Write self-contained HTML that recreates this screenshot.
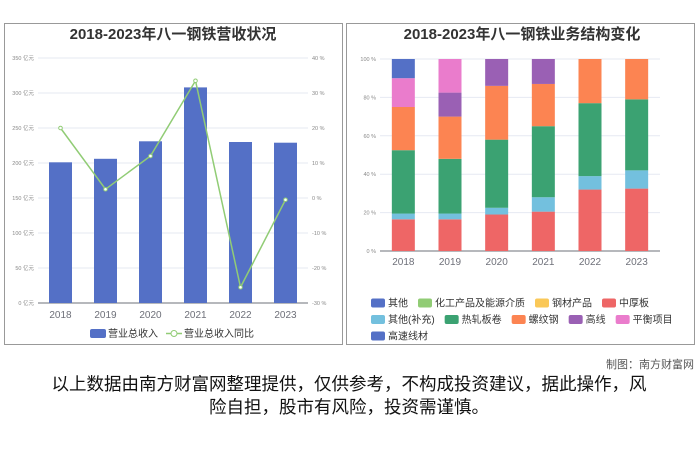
<!DOCTYPE html>
<html><head><meta charset="utf-8">
<style>
body{margin:0;width:700px;height:467px;background:#fff;overflow:hidden;font-family:"Liberation Sans","Noto Sans CJK SC",sans-serif;}
svg text{font-family:"Liberation Sans","Noto Sans CJK SC",sans-serif;}
</style></head>
<body>
<svg id="chart" width="700" height="467" viewBox="0 0 700 467">
<rect x="4.5" y="23.5" width="338" height="321" fill="#fff" stroke="#999"/>
<rect x="346.5" y="23.5" width="348" height="321" fill="#fff" stroke="#999"/>
<text x="173" y="39" text-anchor="middle" font-size="15" font-weight="bold" fill="#333">2018-2023年八一钢铁营收状况</text>
<text x="522" y="39" text-anchor="middle" font-size="15" font-weight="bold" fill="#333">2018-2023年八一钢铁业务结构变化</text>
<g id="left"></g>
<g id="right"></g>
<text x="694" y="368" text-anchor="end" font-size="11" fill="#555">制图：南方财富网</text>
<text x="349" y="390" text-anchor="middle" font-size="17.5" fill="#111">以上数据由南方财富网整理提供，仅供参考，不构成投资建议，据此操作，风</text>
<text x="349" y="413" text-anchor="middle" font-size="17.5" fill="#111">险自担，股市有风险，投资需谨慎。</text>
</svg>
<script>
const years=['2018','2019','2020','2021','2022','2023'];
const revenue=[201,206,231,308,230,229];
const growth=[20,2.5,12,33.5,-25.5,-0.5];
const revTicks=[0,50,100,150,200,250,300,350];
const pctTicks=[-30,-20,-10,0,10,20,30,40];
const segNames=['中厚板','其他(补充)','热轧板卷','螺纹钢','高线','平衡项目','高速线材'];
const segColors=['#ee6666','#73c0de','#3ba272','#fc8452','#9a60b4','#ea7ccc','#5470c6'];
const s_zhb=[16.5,16.5,19,20.5,32,32.5];
const s_qtbc=[3,3,3.5,7.5,7,9.5];
const s_rzbj=[33,28.5,35.5,37,38,37];
const s_lwg=[22.5,22,28,22,23,21];
const s_gx=[0,12.5,14,13,0,0];
const s_phxm=[15,17.5,0,0,0,0];
const s_gsxc=[10,0,0,0,0,0];
const series=[s_zhb,s_qtbc,s_rzbj,s_lwg,s_gx,s_phxm,s_gsxc];
const pctAxis=[0,20,40,60,80,100];
const legendItems=[['其他','#5470c6'],['化工产品及能源介质','#91cc75'],['钢材产品','#fac858'],['中厚板','#ee6666'],['其他(补充)','#73c0de'],['热轧板卷','#3ba272'],['螺纹钢','#fc8452'],['高线','#9a60b4'],['平衡项目','#ea7ccc'],['高速线材','#5470c6']];
const NS='http://www.w3.org/2000/svg';
function mk(p,t,a,txt){const e=document.createElementNS(NS,t);for(const k in a)e.setAttribute(k,a[k]);if(txt!==undefined)e.textContent=txt;p.appendChild(e);return e;}
// left
const L=document.getElementById('left');
const lx0=38,lx1=308,ly0=303,ly1=58;
const yRev=v=>ly0-(v/350)*(ly0-ly1);
const yPct=v=>ly0-((v+30)/70)*(ly0-ly1);
const bw=(lx1-lx0)/years.length;
const xL=i=>lx0+bw*(i+0.5);
revTicks.forEach(v=>{
 let g=mk(L,'line',{x1:lx0,x2:lx1,y1:yRev(v),y2:yRev(v),stroke:v?'#e6e9f2':'#6e7079'});
 
 let t=mk(L,'text',{x:lx0-4,y:yRev(v)+2,'text-anchor':'end','font-size':5.5,fill:'#888'},v+' 亿元');
 
});
pctTicks.forEach(v=>{
 let t=mk(L,'text',{x:lx1+4,y:yPct(v)+2,'font-size':5.5,fill:'#888'},v+' %');
 
});
years.forEach((y,i)=>{
 let r=mk(L,'rect',{x:xL(i)-11.5,y:yRev(revenue[i]),width:23,height:ly0-yRev(revenue[i]),fill:'#5470c6'});
 
 let t=mk(L,'text',{x:xL(i),y:318,'text-anchor':'middle','font-size':10,fill:'#6e7079'},y);
 
});
let pl=mk(L,'polyline',{points:growth.map((v,i)=>xL(i)+','+yPct(v)).join(' '),fill:'none',stroke:'#91cc75','stroke-width':1.5});

growth.forEach((v,i)=>{let c=mk(L,'circle',{cx:xL(i),cy:yPct(v),r:1.8,fill:'#fff',stroke:'#91cc75'});
 });
let lg1=mk(L,'rect',{x:90,y:329,width:16,height:9,rx:2,fill:'#5470c6'});

let lt1=mk(L,'text',{x:108,y:337,'font-size':10,fill:'#333'},'营业总收入');

let lg2=mk(L,'line',{x1:166,x2:182,y1:333.5,y2:333.5,stroke:'#91cc75','stroke-width':1.5});

let lc=mk(L,'circle',{cx:174,cy:333.5,r:3,fill:'#fff',stroke:'#91cc75'});

let lt2=mk(L,'text',{x:184,y:337,'font-size':10,fill:'#333'},'营业总收入同比');

// right
const R=document.getElementById('right');
const rx0=380,rx1=660,ry0=251,ry1=59;
const yP=v=>ry0-(v/100)*(ry0-ry1);
const rbw=(rx1-rx0)/years.length;
const xR=i=>rx0+rbw*(i+0.5);
pctAxis.forEach(v=>{
 let g=mk(R,'line',{x1:rx0,x2:rx1,y1:yP(v),y2:yP(v),stroke:v?'#e6e9f2':'#6e7079'});
 
 let t=mk(R,'text',{x:rx0-4,y:yP(v)+2,'text-anchor':'end','font-size':5.5,fill:'#888'},v+' %');
 
});
years.forEach((y,i)=>{
 let acc=0;
 series.forEach((s,k)=>{
  const v=s[i];if(!v)return;
  let r=mk(R,'rect',{x:xR(i)-11.5,y:yP(acc+v),width:23,height:yP(acc)-yP(acc+v),fill:segColors[k]});
  
  acc+=v;
 });
 let t=mk(R,'text',{x:xR(i),y:265,'text-anchor':'middle','font-size':10,fill:'#6e7079'},y);
 
});
const rows=[[0,1,2,3],[4,5,6,7,8],[9]];
rows.forEach((row,ri)=>{
 let x=371;const y=303+ri*16.5;
 row.forEach(idx=>{
  const [n,c]=legendItems[idx];
  let sw=mk(R,'rect',{x:x,y:y-4.5,width:14,height:9,rx:2,fill:c});
  
  let t=mk(R,'text',{x:x+17,y:y+3.5,'font-size':10,fill:'#333'},n);
  
  x+=17+t.getComputedTextLength()+10;
 });
});
</script>
</body></html>
